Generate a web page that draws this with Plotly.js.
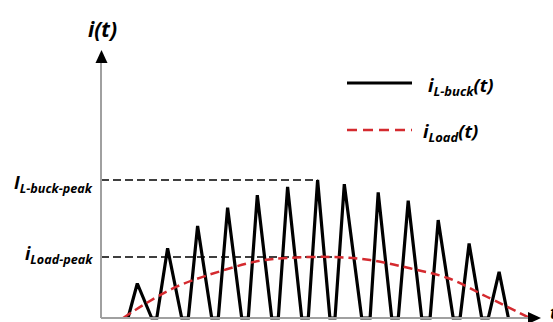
<!DOCTYPE html>
<html>
<head>
<meta charset="utf-8">
<script src="https://cdn.plot.ly/plotly-3.0.1.min.js"></script>
<style>html,body{margin:0;padding:0;background:#fff;}#chart{width:553px;height:322px;}</style>
</head>
<body>
<div id="chart"></div>
<script>
// ---- data (time in switching periods, current normalised to I_L-buck-peak) ----
const tLbuck = [0.90, 1.21, 1.69, 1.86, 2.22, 2.69, 2.91, 3.22, 3.69, 3.91, 4.22, 4.69, 4.91,
                5.21, 5.69, 5.91, 6.22, 6.69, 6.91, 7.22, 7.63, 7.80, 8.11, 8.69, 8.97,
                9.24, 9.69, 9.91, 10.24, 10.69, 10.97, 11.24, 11.74, 11.97, 12.27, 12.69, 12.91,
                13.27, 13.58];
const iLbuck = [0, 0.25, 0, 0, 0.505, 0, 0, 0.667, 0, 0, 0.80, 0, 0,
                0.89, 0, 0, 0.95, 0, 0, 1.0, 0, 0, 0.97, 0, 0,
                0.91, 0, 0, 0.85, 0, 0, 0.71, 0, 0, 0.54, 0, 0,
                0.335, 0];
const tLoad = [0.74, 1.41, 2.52, 4.19, 5.30, 6.20, 7.70, 8.97, 10.30, 11.58, 12.86, 14.30];
const iLoad = [0, 0.094, 0.227, 0.353, 0.415, 0.435, 0.442, 0.42, 0.36, 0.288, 0.154, 0];
const I_LBUCK_PEAK = 1.0, T_LBUCK_PEAK = 7.22;
const I_LOAD_PEAK = 0.442, T_LOAD_PEAK = 7.70;
const peakLabels = ['<b><i>I</i></b><sub><b><i>L-buck-peak</i></b></sub>',
                    '<b><i>i</i></b><sub><b><i>Load-peak</i></b></sub>'];
const legendLabels = ['<b><i>i</i></b><sub><b><i>L-buck</i></b></sub><b><i>(t)</i></b>',
                      '<b><i>i</i></b><sub><b><i>Load</i></b></sub><b><i>(t)</i></b>'];

const W = 553, H = 322;
const px = x => x / W, py = y => 1 - y / H;
const FONT = '"Open Sans", Lato, sans-serif';
const RED = '#d42a2f';

const traces = [
  {x: tLbuck, y: iLbuck, type: 'scatter', mode: 'lines',
   line: {color: '#000', width: 3.2}, hoverinfo: 'skip', showlegend: false},
  {x: tLoad, y: iLoad, type: 'scatter', mode: 'lines',
   line: {color: RED, width: 2.5, dash: '9px,5px', shape: 'spline', smoothing: 1}, hoverinfo: 'skip', showlegend: false}
];

const shapes = [
  // guide lines
  {type: 'line', xref: 'x', yref: 'y', x0: 0, x1: T_LBUCK_PEAK, y0: I_LBUCK_PEAK, y1: I_LBUCK_PEAK,
   line: {color: '#000', width: 1.3, dash: '8px,4px'}, layer: 'below'},
  {type: 'line', xref: 'x', yref: 'y', x0: 0, x1: T_LOAD_PEAK, y0: I_LOAD_PEAK, y1: I_LOAD_PEAK,
   line: {color: '#000', width: 1.3, dash: '8px,4px'}, layer: 'below'},
  // axes
  {type: 'line', xref: 'paper', yref: 'paper', x0: px(101), x1: px(529), y0: py(318), y1: py(318),
   line: {color: '#a0a0a0', width: 2}},
  {type: 'line', xref: 'paper', yref: 'paper', x0: px(101), x1: px(101), y0: py(318), y1: py(61),
   line: {color: '#a0a0a0', width: 2}},
  {type: 'path', xref: 'paper', yref: 'paper',
   path: `M${px(541)},${py(318)} L${px(528)},${py(312)} L${px(528)},${py(324)} Z`,
   fillcolor: '#000', line: {width: 0}},
  {type: 'path', xref: 'paper', yref: 'paper',
   path: `M${px(101.5)},${py(50)} L${px(95.5)},${py(63)} L${px(107.5)},${py(63)} Z`,
   fillcolor: '#000', line: {width: 0}},
  // legend samples
  {type: 'line', xref: 'paper', yref: 'paper', x0: px(347), x1: px(412), y0: py(83), y1: py(83),
   line: {color: '#000', width: 3}},
  {type: 'line', xref: 'paper', yref: 'paper', x0: px(347), x1: px(412), y0: py(130), y1: py(130),
   line: {color: RED, width: 2.5, dash: '10px,6px'}}
];

const ann = (x, y, text, size, xanchor) => ({
  xref: 'paper', yref: 'paper', x: px(x), y: py(y), text: text, showarrow: false,
  xanchor: xanchor, yanchor: 'middle', font: {family: FONT, size: size, color: '#000'}
});

const annotations = [
  ann(102, 29, '<b><i>i(t)</i></b>', 21, 'center'),
  ann(548, 312, '<b><i>t</i></b>', 18, 'left'),
  ann(95, 183, peakLabels[0], 18, 'right'),
  ann(95, 254, peakLabels[1], 18, 'right'),
  ann(426, 86, legendLabels[0], 18.5, 'left'),
  ann(421, 132, legendLabels[1], 18.5, 'left')
];

const layout = {
  width: W, height: H,
  margin: {l: 0, r: 0, t: 0, b: 0},
  paper_bgcolor: '#fff', plot_bgcolor: '#fff',
  xaxis: {range: [-101 / 30, 452 / 30], visible: false, fixedrange: true},
  yaxis: {range: [-4 / 138, 318 / 138], visible: false, fixedrange: true},
  showlegend: false,
  shapes: shapes,
  annotations: annotations
};

Plotly.newPlot('chart', traces, layout, {staticPlot: true, displayModeBar: false});
</script>
</body>
</html>
